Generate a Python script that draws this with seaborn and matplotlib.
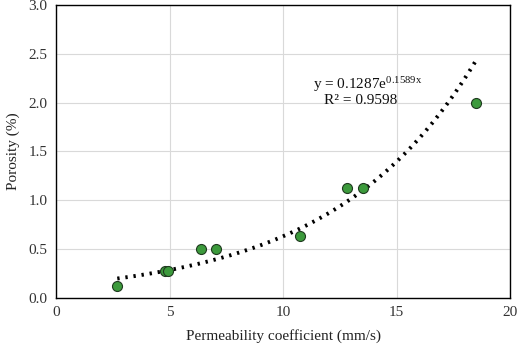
import numpy as np
import pandas as pd
import matplotlib
matplotlib.use("Agg")
import matplotlib.pyplot as plt
import seaborn as sns

# Data
permeability = [2.7, 4.8, 4.95, 6.4, 7.05, 10.75, 12.8, 13.5, 18.5]
porosity = [0.12, 0.28, 0.28, 0.50, 0.50, 0.63, 1.13, 1.13, 2.00]
fit_a = 0.1287
fit_b = 0.1589
x_ticks = [0, 5, 10, 15, 20]
y_ticks = [0.0, 0.5, 1.0, 1.5, 2.0, 2.5, 3.0]

df = pd.DataFrame({"k": permeability, "p": porosity})

sns.set_theme(style="white")
plt.rcParams["font.family"] = ["Liberation Serif", "DejaVu Serif"]
plt.rcParams["mathtext.fontset"] = "custom"
plt.rcParams["mathtext.rm"] = "Liberation Serif"
plt.rcParams["mathtext.it"] = "Liberation Serif"

fig = plt.figure(figsize=(5.18, 3.5), dpi=100)
ax = fig.add_axes([0.108, 0.149, 0.877, 0.837])

ax.grid(True, color="#d9d9d9", linewidth=0.8)
ax.set_axisbelow(True)

xs = np.linspace(min(permeability), max(permeability), 200)
fit_df = pd.DataFrame({"k": xs, "p": fit_a * np.exp(fit_b * xs)})
sns.lineplot(data=fit_df, x="k", y="p", ax=ax, color="black",
             linestyle=(0, (0.6, 1.5)), linewidth=2.8, zorder=2)

sns.scatterplot(data=df, x="k", y="p", ax=ax, s=52, color="#3c9a3c",
                edgecolor="#1f3a1f", linewidth=0.8, zorder=3)

ax.set_xlim(0, 20)
ax.set_ylim(0, 3.0)
ax.set_xticks(x_ticks)
ax.set_yticks(y_ticks)
ax.set_xticklabels([str(t) for t in x_ticks])
ax.set_yticklabels([f"{t:.1f}" for t in y_ticks])
ax.tick_params(axis="both", labelsize=11, colors="#333333", length=0, pad=6)
ax.set_xlabel("Permeability coefficient (mm/s)", fontsize=11, color="#222222", labelpad=7)
ax.set_ylabel("Porosity (%)", fontsize=11, color="#222222", labelpad=6)

for sp in ax.spines.values():
    sp.set_color("black")
    sp.set_linewidth(1.0)
    sp.set_visible(True)

ax.text(13.7, 2.18, r"y = 0.1287e$^{\mathrm{0.1589x}}$", fontsize=11, ha="center", va="center",
        color="#111111")
ax.text(13.4, 2.02, "R² = 0.9598", fontsize=11, ha="center", va="center", color="#111111")

fig.savefig("out.png", dpi=100)
